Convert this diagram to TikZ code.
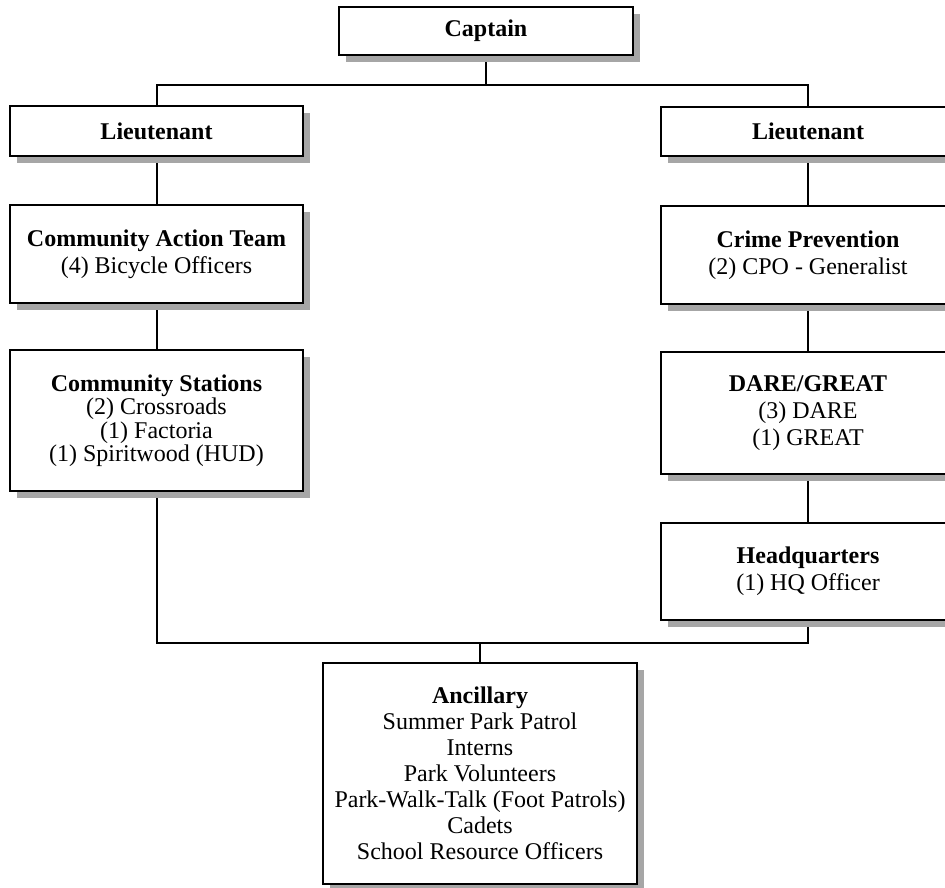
\documentclass[tikz,border=0pt]{standalone}
\usepackage{fontspec}
\setmainfont{Liberation Serif}
\usetikzlibrary{shadows,backgrounds}
\tikzset{
  orgbox/.style={draw=black, line width=2.2pt, fill=white, align=center, inner sep=0pt,
    font=\fontsize{24}{27}\selectfont,
    drop shadow={shadow xshift=7pt, shadow yshift=-7pt, fill=black!35, draw=none, opacity=1}},
  link/.style={line width=2pt, draw=black}
}
\begin{document}
\begin{tikzpicture}[x=1pt,y=-1pt]
\useasboundingbox (0,0) rectangle (945,888);
\clip (0,0) rectangle (945,888);
% top
\node[orgbox, minimum width=294pt, minimum height=48pt] (cap) at (486,31) {\textbf{Captain}};
\node[orgbox, minimum width=293pt, minimum height=50pt] (ltL) at (156.5,131) {\textbf{Lieutenant}};
\node[orgbox, minimum width=294pt, minimum height=49pt] (ltR) at (808,131.5) {\textbf{Lieutenant}};
% left column
\node[orgbox, minimum width=293pt, minimum height=98pt] (cat) at (156.5,254)
  {\textbf{Community Action Team}\\(4) Bicycle Officers};
\node[orgbox, minimum width=293pt, minimum height=141pt, font=\fontsize{24}{23.5}\selectfont] (cs) at (156.5,420.5)
  {\textbf{Community Stations}\\(2) Crossroads\\(1) Factoria\\(1) Spiritwood (HUD)};
% right column
\node[orgbox, minimum width=294pt, minimum height=98pt] (cp) at (808,255)
  {\textbf{Crime Prevention}\\(2) CPO - Generalist};
\node[orgbox, minimum width=294pt, minimum height=122pt] (dg) at (808,413)
  {\textbf{DARE/GREAT}\\(3) DARE\\(1) GREAT};
\node[orgbox, minimum width=294pt, minimum height=97pt] (hq) at (808,571.5)
  {\textbf{Headquarters}\\(1) HQ Officer};
% bottom
\node[orgbox, minimum width=314pt, minimum height=221pt, font=\fontsize{24}{26}\selectfont] (anc) at (480,773.5)
  {\textbf{Ancillary}\\Summer Park Patrol\\Interns\\Park Volunteers\\Park-Walk-Talk (Foot Patrols)\\Cadets\\School Resource Officers};
\coordinate (bus1) at (486,85);
\coordinate (bus2) at (480,643);
\begin{pgfonlayer}{background}
\draw[link] (cap.south) -- (bus1);
\draw[link] (ltL.north) |- (bus1) -| (ltR.north);
\draw[link] (ltL.south) -- (cat.north);
\draw[link] (cat.south) -- (cs.north);
\draw[link] (ltR.south) -- (cp.north);
\draw[link] (cp.south) -- (dg.north);
\draw[link] (dg.south) -- (hq.north);
\draw[link] (cs.south) |- (bus2) -| (hq.south);
\draw[link] (bus2) -- (anc.north);
\end{pgfonlayer}
\end{tikzpicture}
\end{document}
